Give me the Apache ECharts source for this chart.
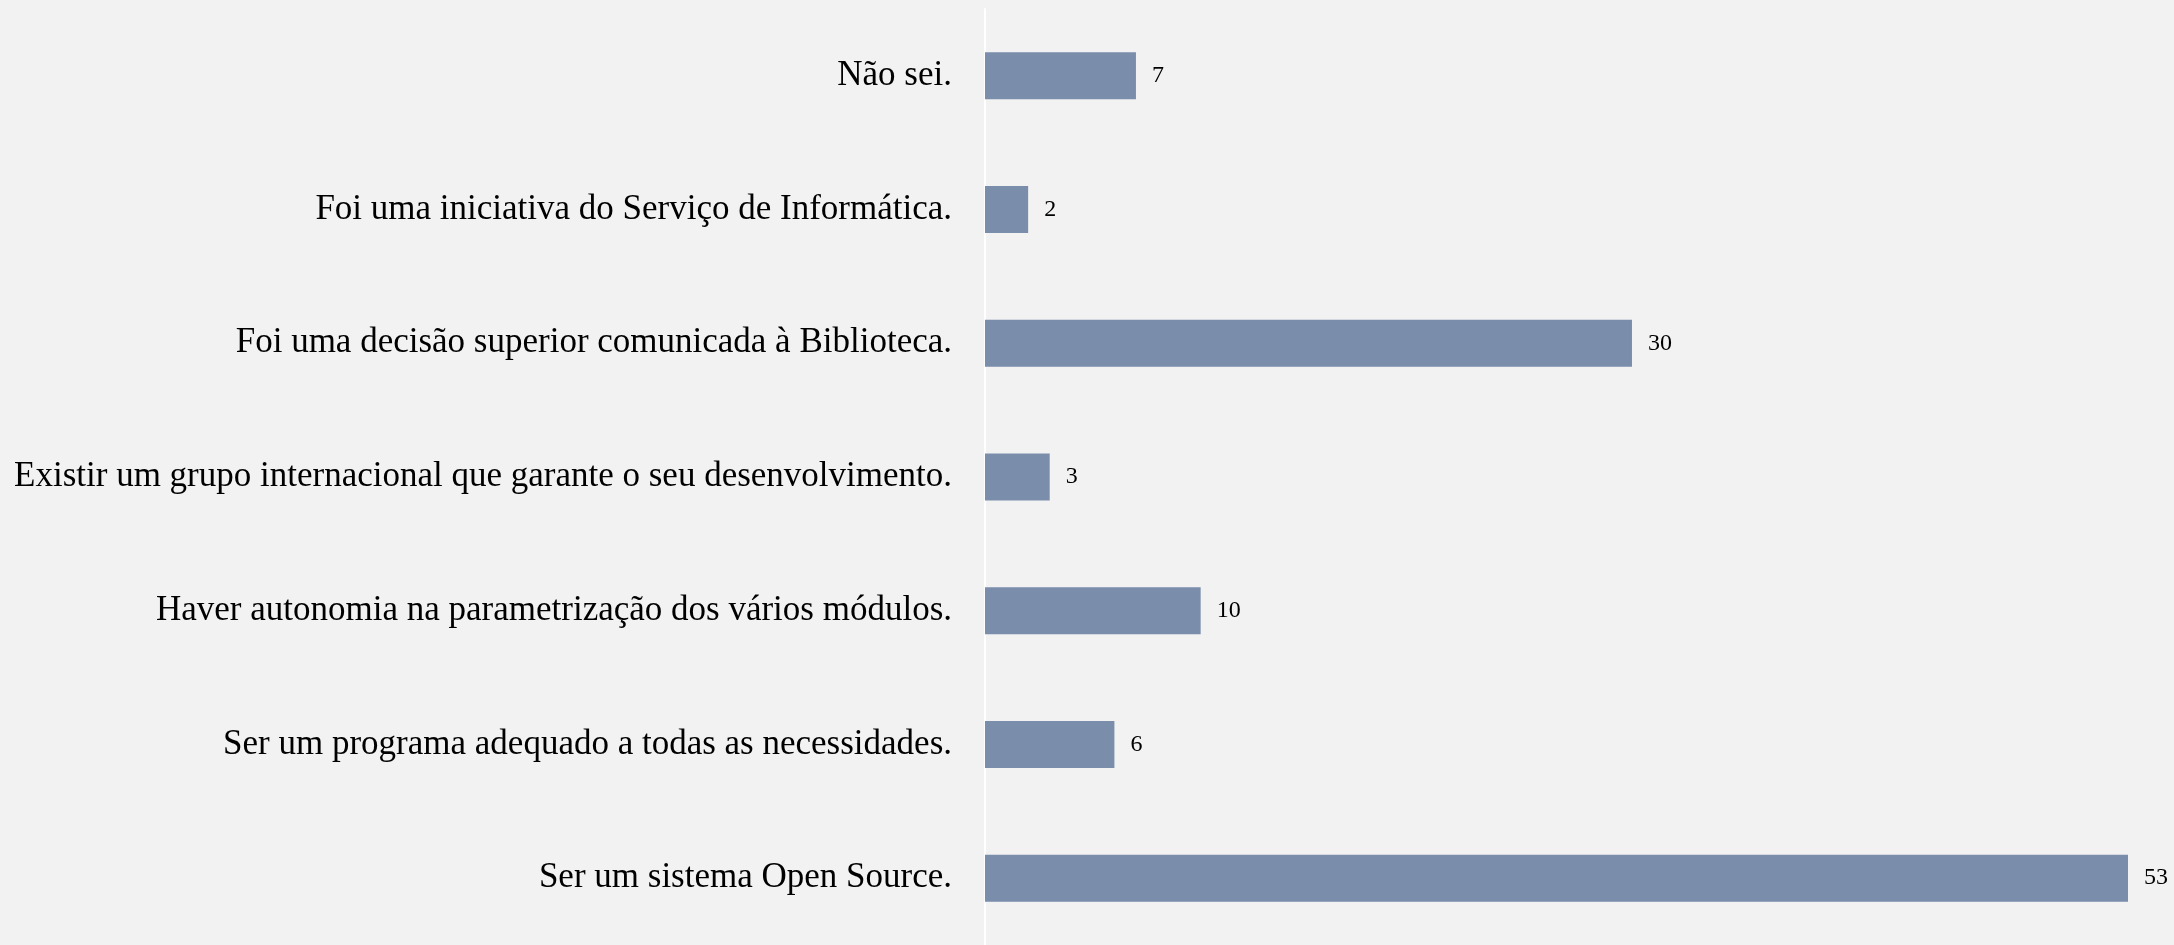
<!DOCTYPE html>
<html>
<head>
<meta charset="utf-8">
<script src="https://cdn.jsdelivr.net/npm/echarts@6/dist/echarts.min.js"></script>
<style>
  html, body { margin: 0; padding: 0; background: #f2f2f2; }
  #chart { width: 2174px; height: 945px; }
</style>
</head>
<body>
<div id="chart"></div>
<script>
  // categorias (de cima para baixo)
  const categories = [
    'Não sei.',
    'Foi uma iniciativa do Serviço de Informática.',
    'Foi uma decisão superior comunicada à Biblioteca.',
    'Existir um grupo internacional que garante o seu desenvolvimento.',
    'Haver autonomia na parametrização dos vários módulos.',
    'Ser um programa adequado a todas as necessidades.',
    'Ser um sistema Open Source.'
  ];
  const counts = [7, 2, 30, 3, 10, 6, 53];

  const chart = echarts.init(document.getElementById('chart'));
  const option = {
    backgroundColor: '#f2f2f2',
    animation: false,
    grid: { left: 985, right: 46, top: 9, height: 944, containLabel: false },
    xAxis: {
      type: 'value',
      min: 0,
      max: 53,
      show: false
    },
    yAxis: {
      type: 'category',
      data: categories,
      inverse: true,
      axisLine: { show: true, lineStyle: { color: '#ffffff', width: 2 } },
      axisTick: { show: false },
      splitLine: { show: false },
      axisLabel: {
        margin: 33,
        color: '#000',
        fontFamily: 'Liberation Serif',
        fontSize: 35
      }
    },
    series: [{
      type: 'bar',
      data: counts,
      barWidth: 47,
      itemStyle: { color: '#7a8dab' },
      label: {
        show: true,
        position: 'right',
        distance: 16,
        color: '#000',
        fontFamily: 'Liberation Serif',
        fontSize: 24
      }
    }]
  };
  chart.setOption(option);
</script>
</body>
</html>
